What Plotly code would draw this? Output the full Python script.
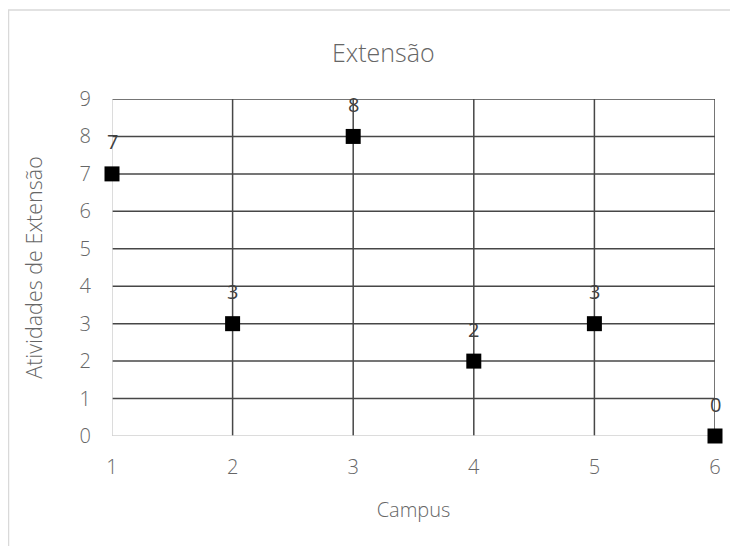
import plotly.graph_objects as go

campus = [1, 2, 3, 4, 5, 6]
atividades = [7, 3, 8, 2, 3, 0]
x_ticks = [1, 2, 3, 4, 5, 6]
y_ticks = [0, 1, 2, 3, 4, 5, 6, 7, 8, 9]

FONT = "Open Sans"
GRID = "#474747"
AXIS = "#d0d0d0"
TXT = "#666666"

# page offset of 8px (body margin) is compensated in the margins
W, H = 738, 546
ML, MR, MT, MB = 104, 31, 91, 118
pw = W - ML - MR
ph = H - MT - MB

fig = go.Figure()
fig.add_trace(go.Scatter(
    x=campus, y=atividades, mode="markers",
    marker=dict(symbol="square", size=15, color="#000000", line=dict(width=0)),
    cliponaxis=False, showlegend=False, hoverinfo="x+y",
))

shapes = []
for v in x_ticks:
    if v == x_ticks[0]:
        continue
    shapes.append(dict(type="line", xref="x", yref="y", x0=v, x1=v, y0=y_ticks[0], y1=y_ticks[-1],
                       line=dict(color=GRID, width=1.5), layer="below"))
for v in y_ticks:
    if v == y_ticks[0]:
        continue
    shapes.append(dict(type="line", xref="x", yref="y", x0=x_ticks[0], x1=x_ticks[-1], y0=v, y1=v,
                       line=dict(color=GRID, width=1.5), layer="below"))
# axis lines
shapes.append(dict(type="line", xref="x", yref="y", x0=x_ticks[0], x1=x_ticks[0], y0=y_ticks[0], y1=y_ticks[-1],
                   line=dict(color=AXIS, width=1.5), layer="below"))
shapes.append(dict(type="line", xref="x", yref="y", x0=x_ticks[0], x1=x_ticks[-1], y0=y_ticks[0], y1=y_ticks[0],
                   line=dict(color=AXIS, width=1.5), layer="below"))
# chart border
shapes.append(dict(type="rect", xref="paper", yref="paper",
                   x0=(0.5 - ML) / pw, x1=(W + 40 - ML) / pw,
                   y0=(ph - (H + 40 - MT)) / ph, y1=(ph + MT - 2) / ph,
                   line=dict(color="#d9d9d9", width=1.5), layer="below"))

annotations = []
for cx, cy in zip(campus, atividades):
    annotations.append(dict(
        x=cx, y=cy, xref="x", yref="y", text=str(cy), showarrow=False,
        yshift=32, font=dict(family=FONT, size=20, color="#404040", weight=400),
    ))
annotations.append(dict(
    x=(375 - ML) / pw, y=(ph + MT - 44) / ph, xref="paper", yref="paper", text="Extensão",
    xanchor="center", yanchor="middle",
    showarrow=False, font=dict(family=FONT, size=25, color=TXT, weight=300),
))

fig.update_layout(
    width=W, height=H,
    margin=dict(l=ML, r=MR, t=MT, b=MB, autoexpand=False),
    paper_bgcolor="white", plot_bgcolor="white",
    font=dict(family=FONT, color=TXT),
    shapes=shapes,
    xaxis=dict(
        range=[x_ticks[0], x_ticks[-1]], tickmode="array", tickvals=x_ticks,
        ticktext=[str(v) for v in x_ticks],
        showgrid=False, showline=False, zeroline=False,
        ticks="", ticklabelstandoff=17,
        tickfont=dict(family=FONT, size=20, color=TXT, weight=300),
        title=dict(text="Campus", font=dict(family=FONT, size=20, color=TXT, weight=300), standoff=23),
    ),
    yaxis=dict(
        range=[y_ticks[0], y_ticks[-1]], tickmode="array", tickvals=y_ticks,
        ticktext=[str(v) for v in y_ticks],
        showgrid=False, showline=False, zeroline=False,
        ticks="", ticklabelstandoff=20,
        tickfont=dict(family=FONT, size=20, color=TXT, weight=300),
        title=dict(text="Atividades de Extensão", font=dict(family=FONT, size=21.5, color=TXT, weight=300),
                   standoff=31),
    ),
    annotations=annotations,
)

fig.write_html("out.html")
